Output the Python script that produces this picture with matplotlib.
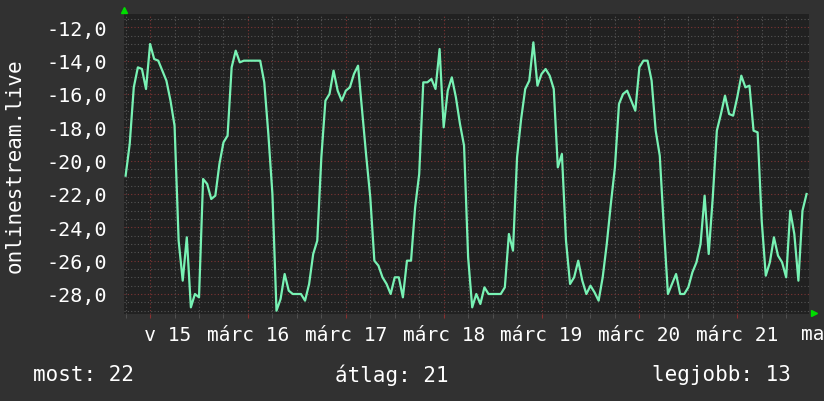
import matplotlib
matplotlib.use("Agg")
import matplotlib.pyplot as plt
import numpy as np
from matplotlib.ticker import MultipleLocator

# hourly readings, first one at 18:00 the day before "márc 15"
start_hour = -6
temp = [
    -20.9, -19.0, -15.6, -14.4, -14.5, -15.7,
    -13.0, -13.9, -14.0, -14.6, -15.2, -16.4, -17.9, -24.8, -27.2, -24.6, -28.8, -28.0,
    -28.2, -21.1, -21.4, -22.3, -22.1, -20.2, -18.9, -18.5, -14.4, -13.4, -14.1, -14.0,
    -14.0, -14.0, -14.0, -14.0, -15.3, -18.4, -22.0, -29.0, -28.3, -26.8, -27.8, -28.0,
    -28.0, -28.0, -28.4, -27.4, -25.6, -24.8, -19.8, -16.4, -16.0, -14.6, -15.8, -16.4,
    -15.8, -15.6, -14.8, -14.3, -17.0, -19.7, -22.2, -26.0, -26.3, -27.0, -27.4, -28.0,
    -27.0, -27.0, -28.2, -26.0, -26.0, -22.8, -20.8, -15.3, -15.3, -15.1, -15.7, -13.3,
    -18.0, -15.8, -15.0, -16.2, -17.8, -19.1, -25.8, -28.8, -28.0, -28.6, -27.6, -28.0,
    -28.0, -28.0, -28.0, -27.6, -24.4, -25.4, -19.8, -17.5, -15.7, -15.2, -12.9, -15.5,
    -14.8, -14.5, -14.9, -15.7, -20.4, -19.6, -24.8, -27.4, -27.0, -26.0, -27.2, -28.0,
    -27.5, -27.9, -28.4, -27.0, -25.0, -22.6, -20.4, -16.6, -16.0, -15.8, -16.4, -17.0,
    -14.4, -14.0, -14.0, -15.2, -18.2, -19.7, -24.0, -28.0, -27.4, -26.8, -28.0, -28.0,
    -27.6, -26.7, -26.1, -25.0, -22.1, -25.6, -22.2, -18.2, -17.2, -16.1, -17.2, -17.3,
    -16.2, -14.9, -15.6, -15.5, -18.2, -18.3, -23.6, -26.9, -26.1, -24.6, -25.7, -26.1,
    -27.0, -23.0, -24.4, -27.2, -23.0, -22.0,
]
day_hours = [0, 24, 48, 72, 96, 120, 144]
day_labels = ["   v 15", "márc 16", "márc 17", "márc 18", "márc 19", "márc 20", "márc 21"]
y_ticks = [-28, -26, -24, -22, -20, -18, -16, -14, -12]
legend_names = ["most", "átlag", "legjobb"]
legend_values = [22, 21, 13]

hours = start_hour + np.arange(len(temp))

bg = "#313131"
plotbg = "#212121"
mono = "DejaVu Sans Mono"

fig = plt.figure(figsize=(8.24, 4.02), dpi=100, facecolor=bg)
ax = fig.add_axes([124 / 824, 1 - 315 / 402, 685 / 824, 300 / 402], facecolor=plotbg)

ax.plot(hours, temp, color="#78f2b4", linewidth=1.6, zorder=3)

ax.set_xlim(-6.4, 161.6)
ax.set_ylim(-29.2, -11.2)

ax.set_xticks(day_hours)
ax.set_xticklabels(day_labels)
ax.xaxis.set_minor_locator(MultipleLocator(6))
ax.set_yticks(y_ticks)
ax.set_yticklabels([("%.1f" % v).replace(".", ",") for v in y_ticks])
ax.yaxis.set_minor_locator(MultipleLocator(0.5))

ax.set_axisbelow(True)
ax.grid(which="minor", color="#555555", linestyle=(0, (1, 2)), linewidth=0.8)
ax.grid(which="major", color="#7e3434", linestyle=(0, (1, 2)), linewidth=0.8)

for s in ax.spines.values():
    s.set_visible(False)

ax.tick_params(axis="y", which="both", length=0, pad=12, labelsize=14.5,
               labelcolor="white")
ax.tick_params(axis="x", which="major", length=3, color="#8a3030", pad=5,
               labelsize=14, labelcolor="white")
ax.tick_params(axis="x", which="minor", length=3, color="#555555")
for lab in ax.get_xticklabels() + ax.get_yticklabels():
    lab.set_family(mono)

# leftover label at the right edge
ax.text(0.988, -0.033, "ma", transform=ax.transAxes, ha="left", va="top",
        color="white", fontsize=14, family=mono, clip_on=False)

# rrdtool style arrows
ax.plot([0], [1.015], marker="^", color="#00dd00", markersize=5,
        transform=ax.transAxes, clip_on=False)
ax.plot([1.007], [0.005], marker=">", color="#00dd00", markersize=5,
        transform=ax.transAxes, clip_on=False)

fig.text(15 / 824, 1 - 166 / 402, "onlinestream.live", rotation=90, ha="center",
         va="center", color="white", fontsize=15, family=mono)

fig.text(33 / 824, 1 - 375 / 402, "%s: %d" % (legend_names[0], legend_values[0]),
         ha="left", va="center", color="white", fontsize=15, family=mono)
fig.text(335 / 824, 1 - 375 / 402, "%s: %d" % (legend_names[1], legend_values[1]),
         ha="left", va="center", color="white", fontsize=15, family=mono)
fig.text(791 / 824, 1 - 375 / 402, "%s: %d" % (legend_names[2], legend_values[2]),
         ha="right", va="center", color="white", fontsize=15, family=mono)

fig.savefig("out.png", dpi=100, facecolor=bg)
